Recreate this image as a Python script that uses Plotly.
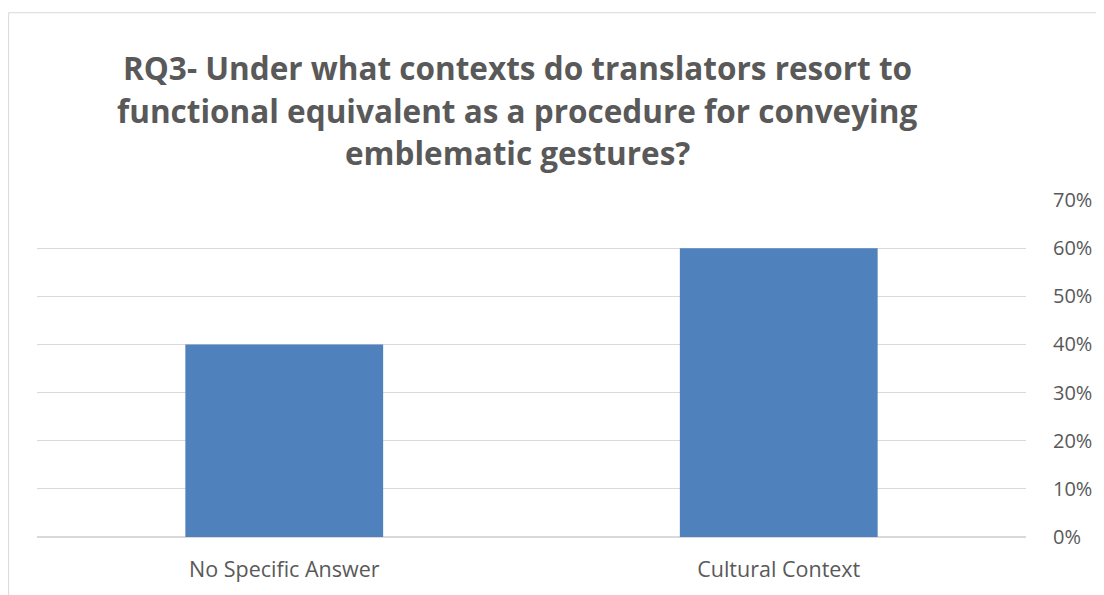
import plotly.graph_objects as go

categories = ["No Specific Answer", "Cultural Context"]
values = [0.40, 0.60]
title_lines = [
    "RQ3- Under what contexts do translators resort to",
    "functional equivalent as a procedure for conveying",
    "emblematic gestures?",
]
tick_vals = [0, 0.1, 0.2, 0.3, 0.4, 0.5, 0.6, 0.7]
tick_text = ["0%", "10%", "20%", "30%", "40%", "50%", "60%", "70%"]

# page has an 8px body margin; figure coords = page coords - 8
W, H = 1096, 587
L, R, T, B = 29, 74, 192, 54
pw, ph = W - L - R, H - T - B

fig = go.Figure(go.Bar(
    x=categories, y=values, marker_color="#4F81BD", marker_line_width=0,
))

def px_x(x):
    return (x - L) / pw

def px_y(y):
    return (H - B - y) / ph

annotations = []
for i, line in enumerate(title_lines):
    annotations.append(dict(
        text="<b>" + line + "</b>", x=px_x(511), y=px_y(58 + 43 * i),
        xref="paper", yref="paper", xanchor="center", yanchor="middle",
        showarrow=False, font=dict(family="Open Sans", size=31.5, color="#595959"),
    ))

fig.update_layout(
    width=W, height=H,
    margin=dict(l=L, r=R, t=T, b=B),
    paper_bgcolor="white", plot_bgcolor="white",
    showlegend=False,
    bargap=0.6,
    annotations=annotations,
    shapes=[dict(type="rect", xref="paper", yref="paper",
                 x0=px_x(0.5), x1=px_x(1200), y0=px_y(700), y1=px_y(2.5),
                 line=dict(color="#D9D9D9", width=1), fillcolor="rgba(0,0,0,0)", layer="below")],
    font=dict(family="Open Sans", color="#595959"),
    xaxis=dict(showgrid=False, showline=False, ticks="", ticklabelstandoff=17,
               tickfont=dict(size=21.5, color="#595959")),
    yaxis=dict(side="right", range=[0, 0.7], tickvals=tick_vals, ticktext=tick_text,
               showgrid=True, gridcolor="#D9D9D9", gridwidth=1, zeroline=True,
               zerolinecolor="#D9D9D9", showline=False, ticks="", ticklabelstandoff=26,
               tickfont=dict(size=20, color="#595959")),
)

fig.write_html("out.html")
